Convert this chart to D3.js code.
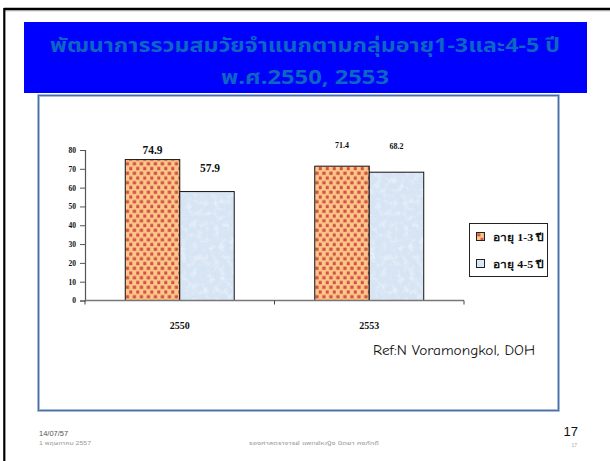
<!DOCTYPE html>
<html>
<head>
<meta charset="utf-8">
<script src="https://cdn.jsdelivr.net/npm/d3@7"></script>
<style>
  html, body { margin: 0; padding: 0; background: #fff; }
  svg { display: block; }
</style>
</head>
<body>
<svg id="slide" width="610" height="461"></svg>
<script>
// Survey figures: overall development by age group, B.E. 2550 and 2553
const categories = ["2550", "2553"];
const seriesNames = ["อายุ 1-3 ปี", "อายุ 4-5 ปี"];
const age1to3 = [74.9, 71.4];
const age4to5 = [57.9, 68.2];
const yTickValues = [0, 10, 20, 30, 40, 50, 60, 70, 80];
const titleLines = ["พัฒนาการรวมสมวัยจำแนกตามกลุ่มอายุ1-3และ4-5 ปี", "พ.ศ.2550, 2553"];
const refNote = "Ref:N Voramongkol, DOH";
const footerDate = "14/07/57";
const footerDateThai = "1 พฤษภาคม 2557";
const footerAuthor = "รองศาสตราจารย์ แพทย์หญิง นิตยา คงภักดี";
const slideNumber = "17";

const seriesValues = [age1to3, age4to5];

const svg = d3.select("#slide");
const defs = svg.append("defs");

// dotted orange fill
const dots = defs.append("pattern")
  .attr("id", "dots").attr("patternUnits", "userSpaceOnUse")
  .attr("width", 7).attr("height", 9.5);
dots.append("rect").attr("width", 7).attr("height", 9.5).attr("fill", "#fcc886");
dots.append("rect").attr("x", 0.5).attr("y", 0.6).attr("width", 3.3).attr("height", 3.3).attr("fill", "#d24f4b");
dots.append("rect").attr("x", 4).attr("y", 5.4).attr("width", 3.3).attr("height", 3.3).attr("fill", "#d24f4b");

// frosted light-blue fill
const frost = defs.append("filter").attr("id", "frost")
  .attr("x", 0).attr("y", 0).attr("width", 1).attr("height", 1);
frost.append("feTurbulence").attr("type", "fractalNoise")
  .attr("baseFrequency", "0.18").attr("numOctaves", 3).attr("seed", 7).attr("result", "n");
frost.append("feColorMatrix").attr("in", "n").attr("type", "matrix")
  .attr("values", "0 0 0 0 1  0 0 0 0 1  0 0 0 0 1  0 0 0 1.1 -0.5").attr("result", "w");
frost.append("feComposite").attr("in", "w").attr("in2", "SourceAlpha").attr("operator", "in").attr("result", "wc");
const fm = frost.append("feMerge");
fm.append("feMergeNode").attr("in", "SourceGraphic");
fm.append("feMergeNode").attr("in", "wc");

const seriesFill = ["url(#dots)", "#d6e4f4"];

// slide edges
svg.append("line").attr("x1", 4).attr("x2", 610).attr("y1", 9).attr("y2", 9)
  .attr("stroke", "#000").attr("stroke-width", 2.6);
svg.append("line").attr("x1", 4).attr("x2", 610).attr("y1", 10.8).attr("y2", 10.8)
  .attr("stroke", "#999").attr("stroke-width", 0.8);
svg.append("line").attr("x1", 4.3).attr("x2", 4.3).attr("y1", 8).attr("y2", 461)
  .attr("stroke", "#000").attr("stroke-width", 2.2);

// title banner
svg.append("rect").attr("x", 24).attr("y", 22).attr("width", 563).attr("height", 71).attr("fill", "#0000ff");
const titleFont = "Tahoma, 'Noto Sans Thai', 'Noto Sans', 'DejaVu Sans', sans-serif";
svg.append("text").attr("x", 305).attr("y", 52).attr("text-anchor", "middle")
  .attr("font-family", titleFont).attr("font-weight", "bold").attr("font-size", 20)
  .attr("textLength", 510).attr("lengthAdjust", "spacingAndGlyphs")
  .attr("fill", "#0b66c4").text(titleLines[0]);
svg.append("text").attr("x", 305).attr("y", 84).attr("text-anchor", "middle")
  .attr("font-family", titleFont).attr("font-weight", "bold").attr("font-size", 20)
  .attr("textLength", 168).attr("lengthAdjust", "spacingAndGlyphs")
  .attr("fill", "#0b66c4").text(titleLines[1]);

// chart frame
svg.append("rect").attr("x", 38.5).attr("y", 95.5).attr("width", 520).attr("height", 315)
  .attr("fill", "#fff").attr("stroke", "#b9c9e0").attr("stroke-width", 3);
svg.append("rect").attr("x", 38.5).attr("y", 95.5).attr("width", 520).attr("height", 315)
  .attr("fill", "none").attr("stroke", "#4a70a8").attr("stroke-width", 1.3);

// plot area
const plot = { left: 85, right: 464, top: 150, bottom: 300.5 };
const y = d3.scaleLinear().domain([0, 80]).range([plot.bottom, plot.top]);
const x0 = d3.scaleBand().domain(categories).range([plot.left, plot.right]).padding(0);
const groupWidth = x0.bandwidth() * 0.575;
const x1 = d3.scaleBand().domain(d3.range(seriesNames.length)).range([0, groupWidth]).padding(0);

const serif = "'Liberation Serif', 'Times New Roman', 'DejaVu Serif', serif";

// y axis
const yAxis = svg.append("g").attr("transform", `translate(${plot.left},0)`)
  .call(d3.axisLeft(y).tickValues(yTickValues).tickSize(5).tickPadding(4));
yAxis.select(".domain").attr("stroke", "#555").attr("stroke-width", 1.2);
yAxis.selectAll(".tick line").attr("stroke", "#555");
yAxis.selectAll(".tick text").attr("font-family", serif).attr("font-weight", "bold")
  .attr("font-size", 7.5).attr("fill", "#111");

// bars
const groups = svg.append("g").selectAll("g").data(categories).join("g")
  .attr("transform", d => `translate(${x0(d) + (x0.bandwidth() - groupWidth) / 2},0)`);

groups.each(function (cat, ci) {
  const g = d3.select(this);
  seriesValues.forEach((vals, si) => {
    const v = vals[ci];
    g.append("rect")
      .attr("x", x1(si)).attr("y", y(v))
      .attr("width", x1.bandwidth()).attr("height", y(0) - y(v))
      .attr("fill", seriesFill[si])
      .attr("filter", si === 1 ? "url(#frost)" : null);
    g.append("rect")
      .attr("x", x1(si)).attr("y", y(v))
      .attr("width", x1.bandwidth()).attr("height", y(0) - y(v))
      .attr("fill", "none").attr("stroke", "#111").attr("stroke-width", 1);
  });
});

// x axis
const xAxisG = svg.append("g");
xAxisG.append("line").attr("x1", plot.left).attr("x2", plot.right)
  .attr("y1", y(0)).attr("y2", y(0)).attr("stroke", "#777").attr("stroke-width", 1.6);
const xTickPos = [plot.left, ...categories.map(c => x0(c) + x0.bandwidth())];
xAxisG.selectAll("line.tk").data(xTickPos).join("line").attr("class", "tk")
  .attr("x1", d => d).attr("x2", d => d).attr("y1", y(0)).attr("y2", y(0) + 4)
  .attr("stroke", "#444").attr("stroke-width", 1);
xAxisG.selectAll("text").data(categories).join("text")
  .attr("x", d => x0(d) + x0.bandwidth() / 2).attr("y", 329)
  .attr("text-anchor", "middle").attr("font-family", serif).attr("font-weight", "bold")
  .attr("font-size", 10).attr("fill", "#111").text(d => d);

// value labels: the first period uses larger type than the second
const labelSize = [11.5, 8];
const labelLift = [[6, 20], [18.5, 23]];
groups.each(function (cat, ci) {
  const g = d3.select(this);
  seriesValues.forEach((vals, si) => {
    const v = vals[ci];
    g.append("text")
      .attr("x", x1(si) + x1.bandwidth() / 2 + (ci === 0 && si === 1 ? 3 : 0))
      .attr("y", y(v) - labelLift[ci][si])
      .attr("text-anchor", "middle").attr("font-family", serif).attr("font-weight", "bold")
      .attr("font-size", labelSize[ci]).attr("fill", "#111").text(v.toFixed(1));
  });
});

// legend
const legend = svg.append("g").attr("transform", "translate(469.5,223.5)");
legend.append("rect").attr("width", 78).attr("height", 53)
  .attr("fill", "#fff").attr("stroke", "#222").attr("stroke-width", 1);
seriesNames.forEach((name, i) => {
  const row = legend.append("g").attr("transform", `translate(7,${9 + i * 27})`);
  row.append("rect").attr("width", 8).attr("height", 8)
    .attr("fill", seriesFill[i]).attr("filter", i === 1 ? "url(#frost)" : null);
  row.append("rect").attr("width", 8).attr("height", 8)
    .attr("fill", "none").attr("stroke", "#222").attr("stroke-width", 1);
  row.append("text").attr("x", 16).attr("y", 8).attr("font-family", serif)
    .attr("font-weight", "bold").attr("font-size", 10).attr("fill", "#111")
    .attr("textLength", 51).attr("lengthAdjust", "spacingAndGlyphs").text(name);
});

// reference note
svg.append("text").attr("x", 373).attr("y", 355)
  .attr("font-family", "'Comic Sans MS', 'Comic Neue', Lato, 'Open Sans', sans-serif")
  .attr("font-size", 14).attr("fill", "#111")
  .attr("textLength", 162).attr("lengthAdjust", "spacingAndGlyphs").text(refNote);

// footer
const footFont = "'Liberation Sans', Arial, 'Noto Sans Thai', sans-serif";
svg.append("text").attr("x", 39).attr("y", 436).attr("font-family", footFont)
  .attr("font-size", 7.5).attr("fill", "#555").text(footerDate);
svg.append("text").attr("x", 39).attr("y", 445).attr("font-family", footFont)
  .attr("font-size", 6).attr("fill", "#999")
  .attr("textLength", 52).attr("lengthAdjust", "spacingAndGlyphs").text(footerDateThai);
svg.append("text").attr("x", 314).attr("y", 445).attr("text-anchor", "middle").attr("font-family", footFont)
  .attr("font-size", 6).attr("fill", "#999")
  .attr("textLength", 130).attr("lengthAdjust", "spacingAndGlyphs").text(footerAuthor);
svg.append("text").attr("x", 578).attr("y", 436).attr("text-anchor", "end").attr("font-family", footFont)
  .attr("font-size", 13).attr("fill", "#111").text(slideNumber);
svg.append("text").attr("x", 577).attr("y", 446.5).attr("text-anchor", "end").attr("font-family", footFont)
  .attr("font-size", 5).attr("fill", "#aaa").text(slideNumber);
</script>
</body>
</html>
